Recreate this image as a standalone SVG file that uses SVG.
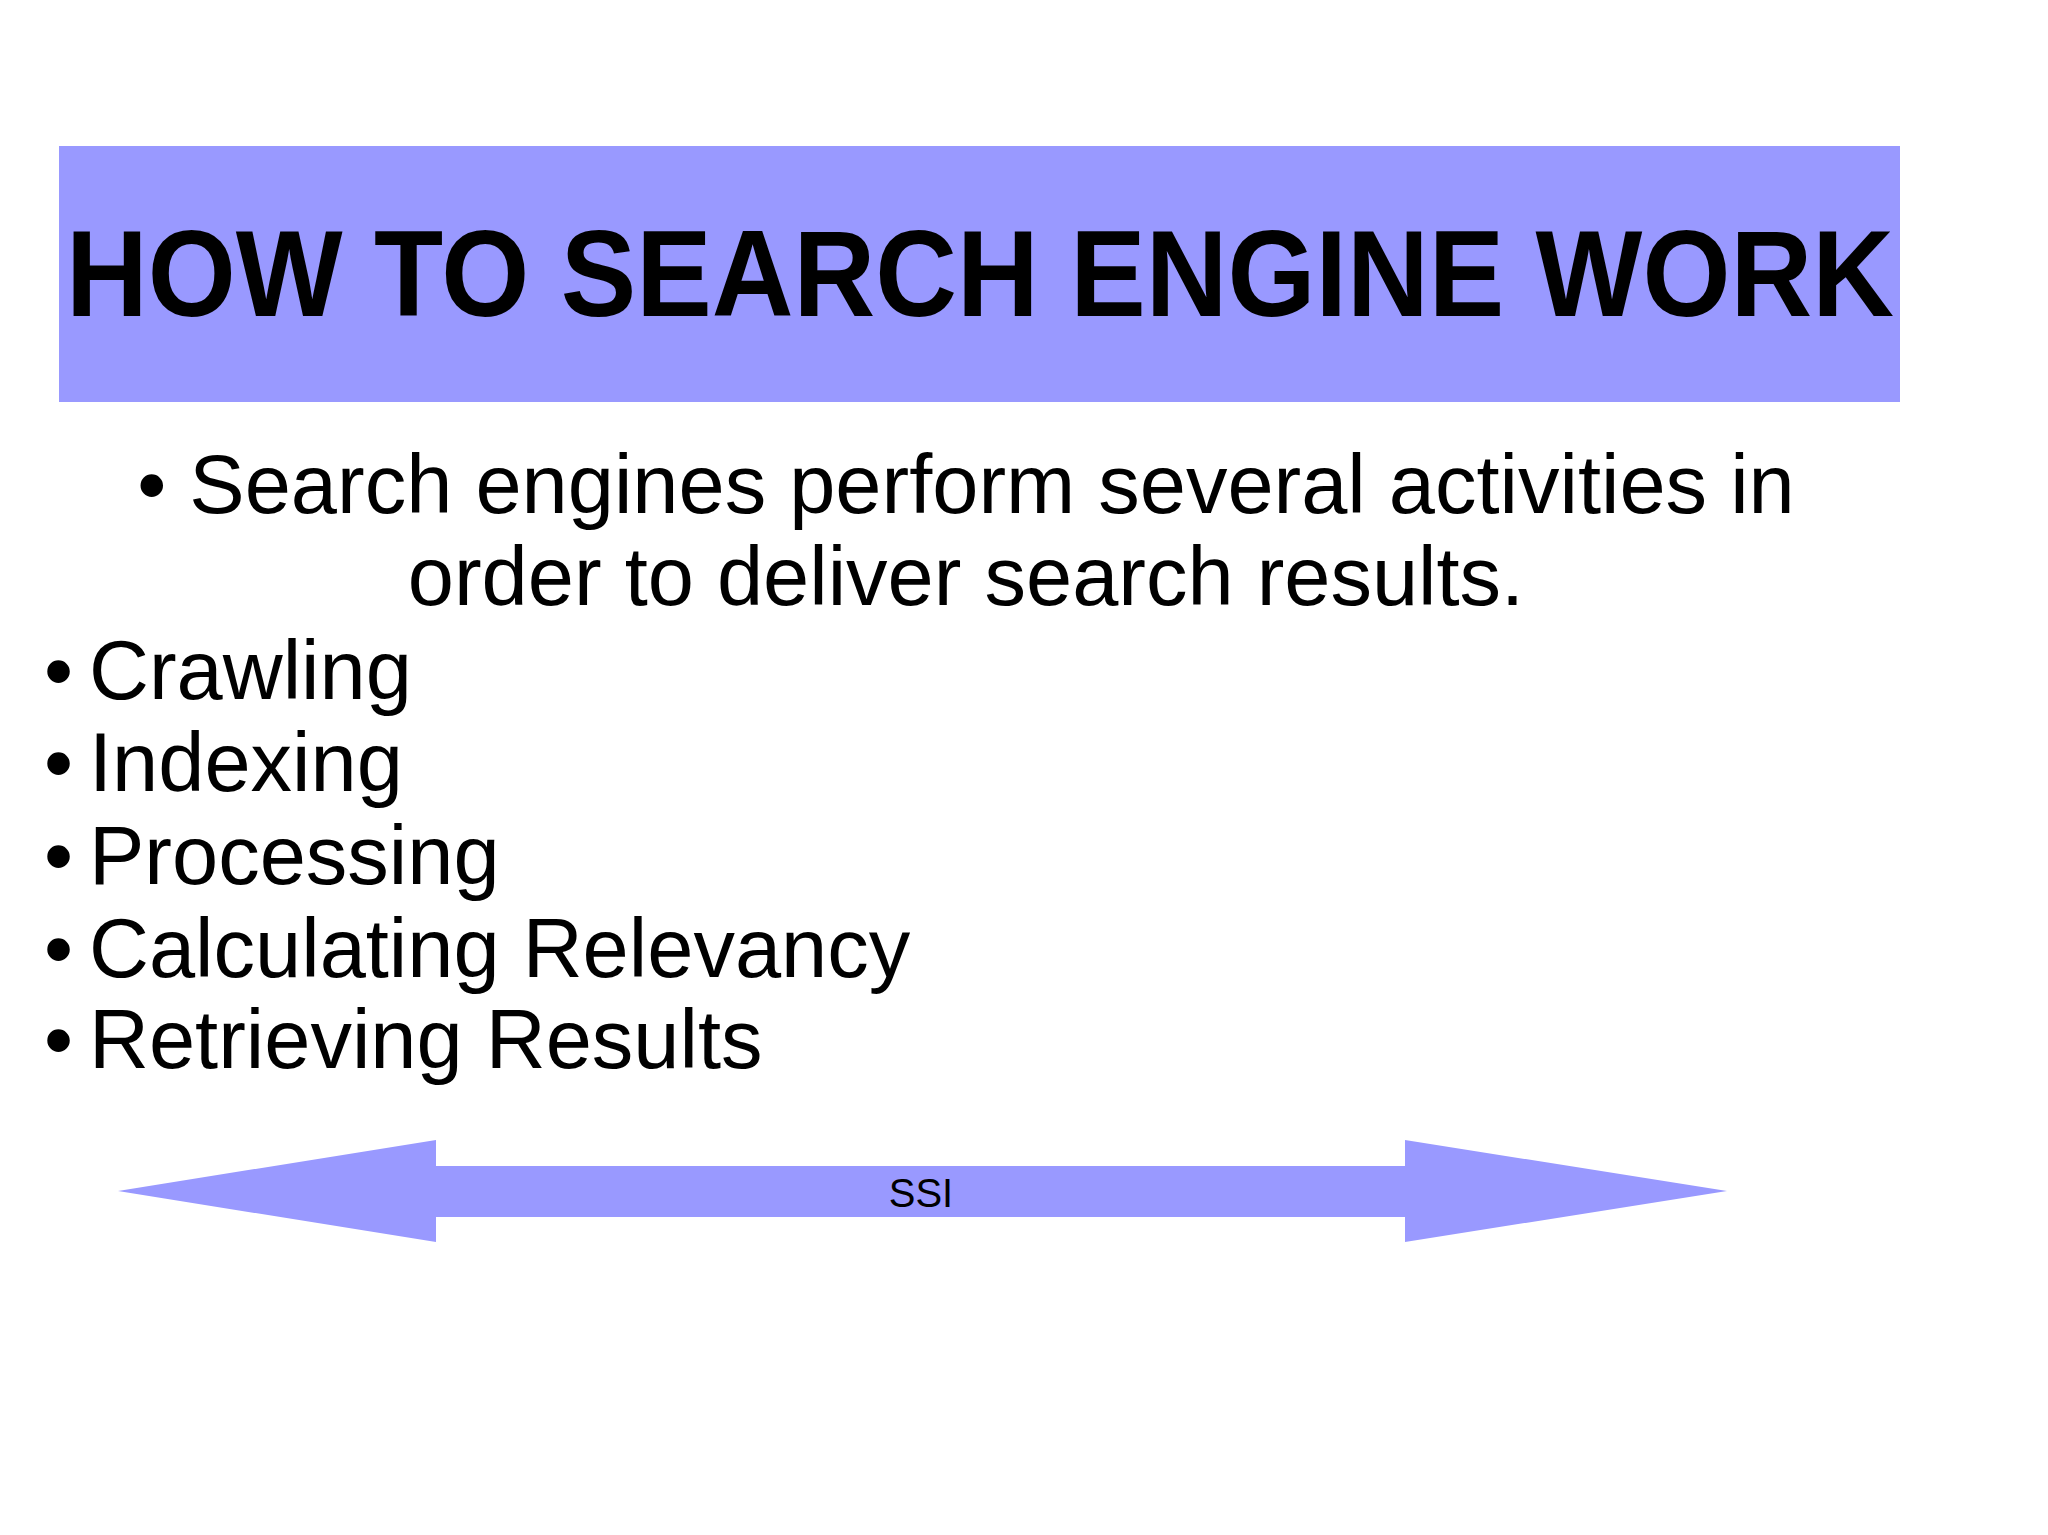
<svg xmlns="http://www.w3.org/2000/svg" width="2048" height="1535" viewBox="0 0 2048 1535">
<style>
text{font-family:"Liberation Sans",Arial,sans-serif;fill:#000}
.b{font-size:83px}
</style>
<rect width="2048" height="1535" fill="#fff"/>
<g id="title">
<rect x="59" y="146" width="1841" height="256" fill="#9999ff"/>
<text x="980" y="316" font-size="122" font-weight="bold" text-anchor="middle" textLength="1828" lengthAdjust="spacingAndGlyphs">HOW TO SEARCH ENGINE WORK</text>
</g>
<g id="intro">
<text class="b" x="966" y="513" text-anchor="middle">• Search engines perform several activities in</text>
<text class="b" x="966" y="605" text-anchor="middle">order to deliver search results.</text>
</g>
<g id="list">
<text class="b" x="44" y="699">•</text><text class="b" x="89" y="699">Crawling</text>
<text class="b" x="44" y="791">•</text><text class="b" x="89" y="791">Indexing</text>
<text class="b" x="44" y="884">•</text><text class="b" x="89" y="884">Processing</text>
<text class="b" x="44" y="977">•</text><text class="b" x="89" y="977">Calculating Relevancy</text>
<text class="b" x="44" y="1068">•</text><text class="b" x="89" y="1068">Retrieving Results</text>
</g>
<g id="arrow">
<polygon points="118,1191 436,1140 436,1166 1405,1166 1405,1140 1727,1191 1405,1242 1405,1217 436,1217 436,1242" fill="#9999ff"/>
<text x="921" y="1207" font-size="40" text-anchor="middle">SSI</text>
</g>
</svg>
